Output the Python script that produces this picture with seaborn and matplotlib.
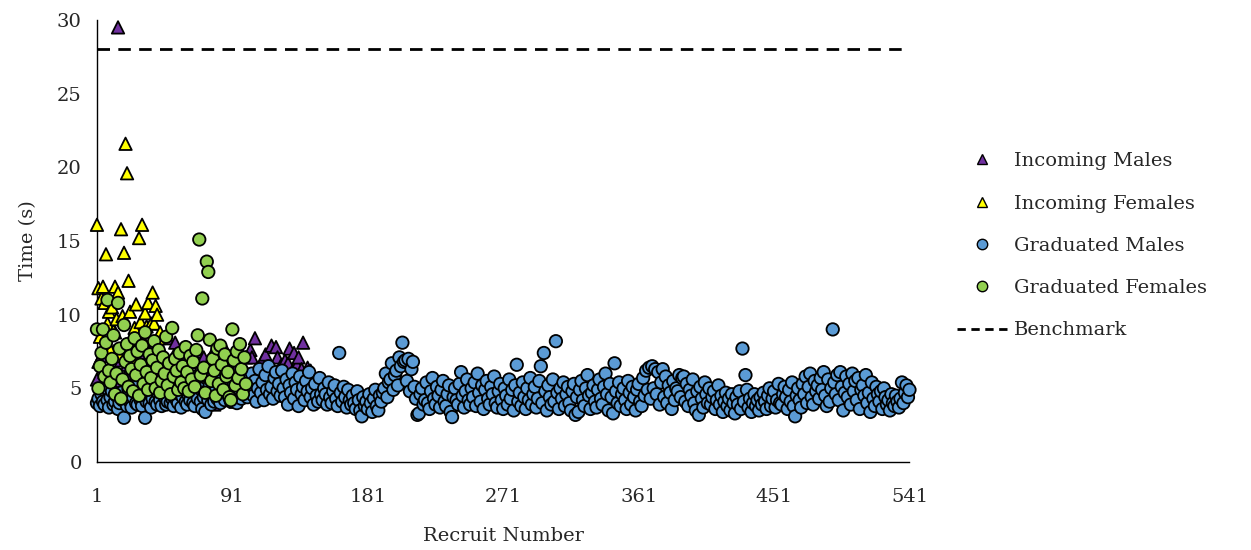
import numpy as np
import pandas as pd
import matplotlib
matplotlib.use('Agg')
import matplotlib.pyplot as plt
import seaborn as sns
from matplotlib.lines import Line2D

sns.set_style('white')
plt.rcParams['font.family'] = ['DejaVu Serif', 'Liberation Serif']

# 数据
incoming_males = [
    5.6, 6.8, 4.9, 7.2, 5.3, 6.1, 4.7, 7.8, 5.9, 6.4,
    5.0, 7.5, 8.8, 6.2, 29.5, 5.5, 6.9, 4.8, 7.3, 5.8,
    6.6, 5.1, 7.9, 6.0, 4.6, 7.0, 5.7, 6.5, 8.0, 5.2,
    6.3, 4.9, 7.4, 5.6, 6.8, 5.3, 7.7, 6.1, 4.7, 5.9,
    7.1, 6.4, 5.0, 7.6, 5.4, 6.2, 4.8, 8.4, 6.7, 5.5,
    6.0, 7.2, 8.1, 5.2, 6.5, 4.6, 7.0, 5.8, 6.3, 5.1,
    7.3, 5.6, 6.1, 4.9, 6.8, 5.4, 7.5, 6.0, 5.0, 6.6,
    5.3, 7.1, 6.2, 4.7, 5.9, 6.9, 5.5, 7.4, 3.9, 6.3,
    5.1, 6.7, 4.8, 7.8, 5.7, 6.4, 7.5, 5.0, 6.1, 4.4,
    5.8, 7.0, 4.1, 6.5, 5.4, 7.3, 4.9, 6.2, 5.6, 7.1,
    6.0, 5.2, 7.6, 7.1, 5.7, 8.4, 6.3, 5.0, 5.1, 6.6,
    6.9, 4.7, 7.3, 5.9, 6.4, 5.3, 7.9, 6.1, 5.6, 7.8,
    7.1, 5.8, 6.5, 4.9, 6.0, 6.9, 5.4, 6.7, 7.7, 5.5,
    6.2, 7.4, 5.0, 6.6, 7.1, 5.7, 6.3, 8.1, 5.9, 5.2,
    6.4, 6.1, 6.2,
]

incoming_females = [
    16.1, 11.8, 8.5, 11.1, 11.9, 10.8, 14.1, 9.4, 10.2, 7.6,
    10.5, 8.9, 11.9, 9.7, 11.5, 7.2, 15.8, 9.9, 14.2, 21.6,
    19.6, 12.3, 10.2, 8.0, 6.9, 9.1, 10.7, 7.8, 15.2, 9.5,
    16.1, 8.2, 10.1, 9.2, 10.8, 6.4, 9.4, 11.5, 9.4, 10.6,
    10.0, 8.4, 8.8, 7.3, 6.0,
]

graduated_males = [
    4.0, 4.3, 3.8, 4.6, 4.1, 3.9, 5.0, 4.2, 3.7, 4.4,
    4.8, 3.9, 4.1, 4.5, 3.6, 4.0, 4.7, 4.2, 3.0, 4.3,
    3.8, 4.9, 4.1, 3.7, 4.4, 5.1, 4.0, 3.9, 4.6, 4.2,
    3.8, 4.5, 3.0, 4.1, 4.8, 4.0, 3.7, 4.3, 5.2, 4.1,
    3.9, 4.6, 4.2, 3.8, 5.0, 4.4, 3.9, 4.1, 4.7, 4.0,
    4.3, 3.8, 4.9, 4.2, 4.0, 4.6, 3.7, 4.4, 5.1, 4.1,
    3.9, 4.5, 4.2, 5.3, 4.0, 3.8, 4.7, 4.3, 5.0, 4.1,
    3.6, 4.4, 3.4, 4.8, 4.2, 5.2, 3.9, 4.5, 4.1, 4.9,
    4.3, 5.5, 4.0, 4.6, 5.1, 4.2, 4.8, 5.4, 4.4, 4.1,
    4.7, 5.3, 4.5, 4.0, 5.6, 4.9, 4.3, 5.0, 4.6, 5.8,
    4.4, 5.2, 4.8, 6.0, 4.5, 5.5, 4.1, 5.0, 6.3, 4.7,
    5.4, 4.2, 5.9, 4.9, 6.5, 4.6, 5.1, 4.3, 5.7, 6.1,
    4.8, 5.3, 4.5, 6.2, 5.0, 4.4, 5.6, 3.9, 5.2, 4.7,
    6.0, 4.3, 5.4, 4.9, 3.8, 5.8, 4.6, 5.1, 4.2, 5.5,
    4.8, 6.1, 4.4, 5.0, 3.9, 5.3, 4.5, 4.1, 5.7, 4.6,
    4.2, 5.0, 4.6, 3.9, 5.4, 4.4, 4.0, 4.8, 5.2, 4.3,
    3.8, 7.4, 4.7, 4.1, 5.1, 4.4, 3.7, 4.9, 4.2, 3.9,
    4.5, 4.0, 3.6, 4.8, 4.2, 3.5, 3.1, 4.4, 3.8, 4.1,
    3.6, 4.6, 4.0, 3.4, 4.3, 4.9, 3.8, 3.5, 4.5, 4.1,
    4.7, 5.0, 6.0, 4.4, 5.4, 5.6, 6.7, 4.9, 5.9, 6.2,
    5.2, 7.1, 6.5, 8.1, 6.8, 6.9, 5.5, 7.0, 4.8, 6.3,
    6.8, 5.1, 4.3, 3.2, 3.3, 4.6, 5.0, 3.9, 4.2, 5.4,
    4.0, 3.6, 4.8, 5.7, 4.3, 3.9, 5.1, 4.5, 3.7, 4.9,
    5.5, 4.1, 3.8, 4.6, 5.2, 3.4, 3.05, 4.4, 5.0, 4.2,
    3.9, 5.3, 6.1, 4.5, 3.7, 4.8, 5.6, 4.2, 3.9, 5.0,
    4.4, 5.4, 3.8, 6.0, 4.7, 4.1, 5.2, 3.6, 4.9, 5.5,
    4.3, 3.9, 5.1, 4.6, 5.8, 4.0, 3.7, 4.8, 5.3, 4.2,
    3.6, 5.0, 4.5, 3.9, 5.6, 4.3, 4.9, 3.5, 5.2, 6.6,
    4.1, 4.7, 3.8, 5.4, 4.4, 3.6, 5.0, 4.2, 5.7, 3.9,
    4.6, 5.1, 3.7, 4.3, 5.5, 6.5, 4.0, 7.4, 4.8, 3.5,
    5.2, 4.4, 3.9, 5.6, 4.1, 8.2, 4.7, 3.6, 5.0, 4.3,
    5.4, 3.8, 4.6, 5.1, 4.0, 3.5, 4.8, 5.3, 3.2, 4.4,
    3.4, 4.9, 5.5, 4.2, 3.8, 5.0, 5.9, 4.5, 3.6, 4.7,
    5.2, 4.1, 3.7, 4.9, 5.6, 4.3, 3.9, 5.1, 6.0, 4.6,
    3.5, 5.3, 4.4, 3.3, 6.7, 4.8, 4.0, 5.4, 3.8, 4.6,
    5.0, 4.2, 3.6, 5.5, 4.7, 3.9, 5.1, 4.4, 3.5, 4.9,
    5.3, 4.1, 3.8, 5.7, 4.5, 6.2, 4.9, 6.4, 4.3, 6.5,
    5.0, 6.3, 4.6, 6.1, 3.9, 5.4, 6.3, 4.4, 5.8, 4.0,
    5.2, 4.7, 3.6, 5.5, 4.2, 5.0, 4.8, 5.9, 4.4, 5.7,
    5.8, 4.1, 5.3, 3.8, 4.9, 4.5, 5.6, 4.0, 3.5, 4.8,
    3.2, 5.1, 4.3, 3.7, 5.4, 4.6, 4.0, 5.0, 3.9, 4.4,
    4.8, 3.6, 4.2, 5.2, 3.9, 4.5, 3.4, 4.1, 4.7, 3.8,
    4.3, 3.5, 4.6, 4.0, 3.3, 4.4, 3.9, 4.8, 3.6, 7.7,
    4.1, 5.9, 4.9, 3.7, 4.3, 3.4, 4.0, 4.6, 3.8, 4.2,
    3.5, 4.4, 3.9, 4.7, 4.1, 3.6, 4.5, 5.0, 3.8, 4.3,
    4.8, 3.7, 4.2, 5.3, 4.0, 3.9, 4.6, 5.1, 4.4, 3.6,
    4.9, 4.1, 5.4, 3.8, 3.1, 4.5, 5.0, 4.2, 3.7, 5.3,
    4.6, 5.8, 4.0, 5.1, 6.0, 4.4, 3.9, 5.5, 4.8, 5.2,
    4.3, 5.7, 4.9, 6.1, 4.5, 3.8, 5.6, 4.1, 5.0, 9.0,
    5.4, 4.6, 5.9, 4.2, 6.1, 5.1, 3.5, 4.7, 5.8, 4.4,
    5.3, 3.9, 6.0, 4.8, 5.5, 4.2, 5.7, 3.6, 4.9, 5.2,
    4.5, 5.9, 4.0, 4.7, 3.4, 5.4, 4.3, 3.8, 5.1, 4.6,
    4.1, 4.8, 3.6, 5.0, 4.4, 3.9, 4.2, 3.5, 4.6, 4.0,
    3.8, 4.5, 4.1, 3.7, 4.3, 5.4, 4.0, 4.7, 5.2, 4.4,
    4.9,
]

graduated_females = [
    9.0, 5.0, 6.5, 7.4, 9.0, 5.8, 8.1, 11.0, 6.2, 5.4,
    7.0, 8.6, 4.6, 6.0, 10.8, 7.7, 4.3, 5.6, 9.3, 6.8,
    8.0, 5.1, 7.2, 6.3, 4.8, 8.4, 5.9, 7.5, 4.5, 6.6,
    7.9, 5.3, 8.8, 6.1, 4.9, 7.3, 5.7, 6.9, 8.2, 5.0,
    6.4, 7.6, 4.7, 5.5, 7.1, 6.0, 8.5, 5.2, 6.7, 4.6,
    9.1, 5.8, 7.0, 6.2, 4.9, 7.4, 5.4, 6.5, 5.0, 7.8,
    6.1, 4.8, 7.2, 5.6, 6.8, 5.1, 7.6, 8.6, 15.1, 5.9,
    11.1, 6.4, 4.7, 13.6, 12.9, 8.3, 5.5, 7.0, 6.2, 4.5,
    7.7, 5.3, 7.9, 6.6, 4.9, 7.3, 5.8, 6.1, 4.4, 4.2,
    9.0, 6.9, 5.2, 7.5, 5.7, 8.0, 6.3, 4.6, 7.1, 5.3,
]

benchmark = 28
groups = ['Incoming Males', 'Incoming Females', 'Graduated Males', 'Graduated Females']
colors = ['#7030A0', '#FFFF00', '#5B9BD5', '#92D050']
markers = ['^', '^', 'o', 'o']
x_ticks = [1, 91, 181, 271, 361, 451, 541]
y_ticks = [0, 5, 10, 15, 20, 25, 30]


def to_frame(values, group):
    return pd.DataFrame({'Recruit Number': np.arange(1, len(values) + 1),
                         'Time (s)': values,
                         'Group': group})


df = pd.concat([to_frame(incoming_males, groups[0]),
                to_frame(incoming_females, groups[1]),
                to_frame(graduated_males, groups[2]),
                to_frame(graduated_females, groups[3])], ignore_index=True)

fig = plt.figure(figsize=(12.51, 5.5), dpi=100)
ax = fig.add_axes([0.0775, 0.16, 0.6495, 0.8036])

sns.scatterplot(data=df, x='Recruit Number', y='Time (s)', hue='Group', style='Group',
                hue_order=groups, style_order=groups,
                palette=dict(zip(groups, colors)), markers=dict(zip(groups, markers)),
                s=80, edgecolor='black', linewidth=1.3, legend=False, ax=ax,
                clip_on=False, zorder=3)

# 基准线
ax.axhline(benchmark, color='black', lw=2.0, ls=(0, (4.5, 3)))

ax.set_xlim(1, 541)
ax.set_ylim(0, 30)
ax.set_xticks(x_ticks)
ax.set_yticks(y_ticks)
ax.tick_params(axis='both', length=0, labelsize=14)
ax.tick_params(axis='x', pad=19)
ax.tick_params(axis='y', pad=11)
ax.set_xlabel('Recruit Number', fontsize=14, labelpad=15)
ax.set_ylabel('Time (s)', fontsize=14, labelpad=14)

for side in ['top', 'right']:
    ax.spines[side].set_visible(False)
for side in ['left', 'bottom']:
    ax.spines[side].set_color('black')
    ax.spines[side].set_linewidth(1.0)

handles = [Line2D([0], [0], marker=m, color='none', markerfacecolor=c, markeredgecolor='black',
                  markersize=7.5, markeredgewidth=1.0, label=g)
           for g, c, m in zip(groups, colors, markers)]
handles.append(Line2D([0], [0], color='black', lw=2.0, ls=(0, (3, 2)), label='Benchmark'))
fig.legend(handles=handles, loc='center left', bbox_to_anchor=(0.751, 0.553), frameon=False,
           fontsize=14, handlelength=2.6, handletextpad=0.35, labelspacing=1.25)

fig.savefig('out.png', dpi=100)
